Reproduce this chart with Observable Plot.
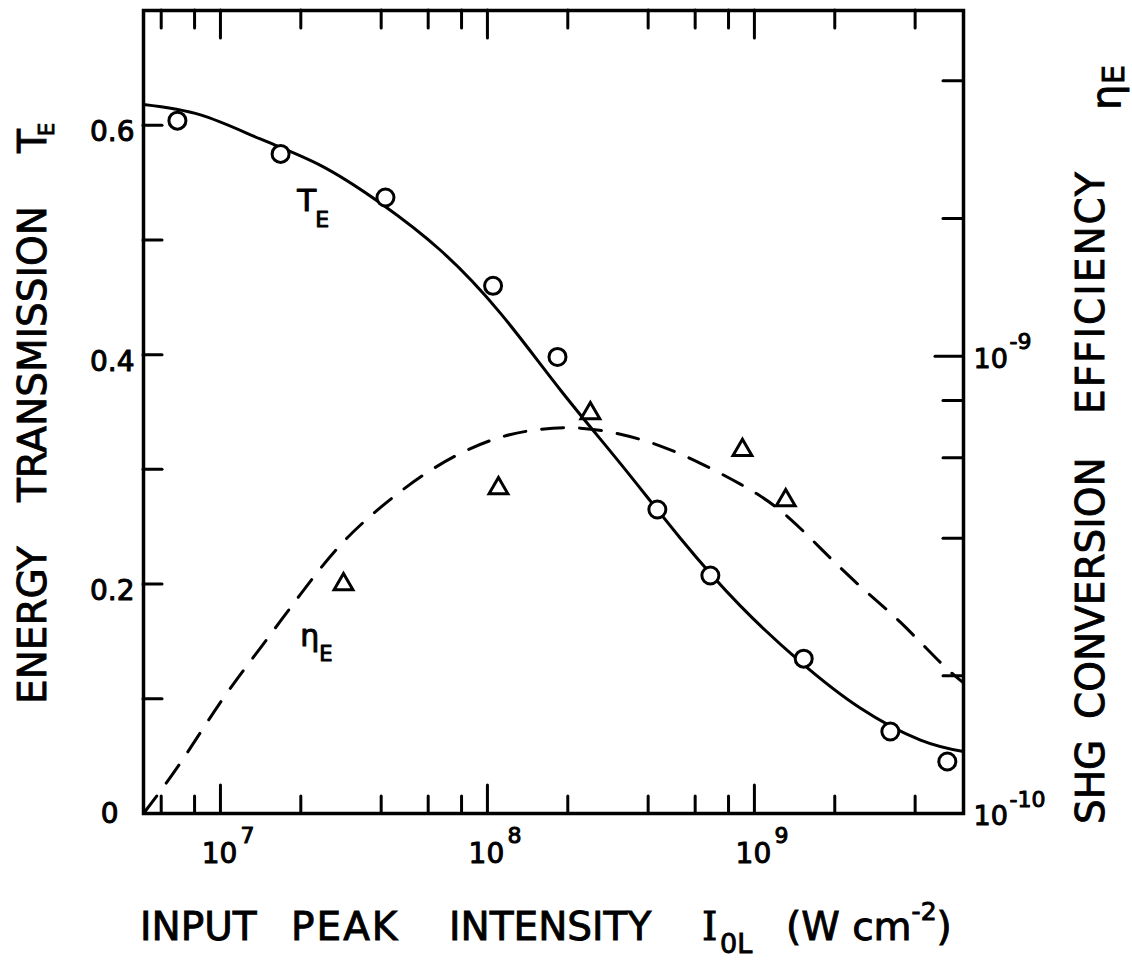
<!DOCTYPE html>
<html>
<head>
<meta charset="utf-8">
<script src="https://cdn.jsdelivr.net/npm/d3@7"></script>
<script src="https://cdn.jsdelivr.net/npm/@observablehq/plot@0.6"></script>
<style>
  html, body { margin: 0; padding: 0; background: #fff; }
  #chart svg { display: block; }
</style>
</head>
<body>
<div id="chart"></div>
<script>
// ---------- axis ticks ----------
const intensityDomain = [5.15e6, 6.07e9];
const intensityTicksMinor = [6e6, 8e6, 2e7, 4e7, 6e7, 8e7, 2e8, 4e8, 6e8, 8e8, 2e9, 4e9];
const intensityTicksMajor = [1e7, 1e8, 1e9];
const transmissionDomain = [0, 0.7];
const transmissionTicks = [0.1, 0.2, 0.3, 0.4, 0.5, 0.6];
const transmissionLabels = [0.2, 0.4, 0.6];
const efficiencyDomain = [1e-10, 5.7e-9];
const efficiencyTicksMinor = [2e-10, 4e-10, 6e-10, 8e-10, 2e-9, 4e-9];
const efficiencyTicksMajor = [1e-9];
const efficiencyLabels = [1e-10, 1e-9];

// ---------- T_E : energy transmission ----------
const tMeasIntensity = [6.9e6, 1.68e7, 4.15e7, 1.05e8, 1.83e8, 4.33e8, 6.84e8, 1.53e9, 3.23e9, 5.28e9];
const tMeasValue     = [0.604, 0.575, 0.537, 0.460, 0.398, 0.265, 0.2075, 0.135, 0.0715, 0.0453];
const tFitIntensity  = [5.15e6, 8.42e6, 1.41e7, 2.37e7, 3.98e7, 6.67e7, 1.12e8, 1.88e8, 3.15e8, 5.28e8,
                        8.86e8, 1.49e9, 2.49e9, 4.19e9, 6.07e9];
const tFitValue      = [0.618, 0.609, 0.588, 0.565, 0.532, 0.491, 0.436, 0.369, 0.305, 0.240,
                        0.181, 0.132, 0.092, 0.064, 0.054];

// ---------- eta_E : SHG conversion efficiency ----------
const etaMeasIntensity = [2.89e7, 1.10e8, 2.43e8, 9.02e8, 1.31e9];
const etaMeasValue     = [3.17e-10, 5.14e-10, 7.50e-10, 6.23e-10, 4.84e-10];
const etaFitIntensity  = [5.15e6, 7.08e6, 1.00e7, 1.41e7, 1.99e7, 2.81e7, 3.98e7, 5.61e7, 7.92e7, 1.12e8,
                          1.58e8, 2.23e8, 3.15e8, 4.45e8, 6.28e8, 8.86e8, 1.25e9, 1.77e9, 2.49e9, 3.52e9,
                          4.97e9, 6.07e9];
const etaFitValue      = [1.00e-10, 1.29e-10, 1.75e-10, 2.30e-10, 3.01e-10, 3.86e-10, 4.67e-10, 5.44e-10, 6.13e-10, 6.65e-10,
                          6.92e-10, 6.96e-10, 6.75e-10, 6.36e-10, 5.83e-10, 5.25e-10, 4.60e-10, 3.80e-10, 3.14e-10, 2.62e-10,
                          2.14e-10, 1.93e-10];

// ---------- curve annotations ----------
const annotationT   = [{x: 1.94e7, y: 0.525, label: "T", sub: "E"}];
const annotationEta = [{x: 1.99e7, y: 0.146, label: "η", sub: "E"}];

// ---------- tables ----------
const tMeas = tMeasIntensity.map((x, i) => ({x, y: tMeasValue[i]}));
const tFit = tFitIntensity.map((x, i) => ({x, y: tFitValue[i]}));
const etaMeas = etaMeasIntensity.map((x, i) => ({x, eta: etaMeasValue[i]}));
const etaFit = etaFitIntensity.map((x, i) => ({x, eta: etaFitValue[i]}));

// right (log) axis mapped onto the shared y scale
const etaSpan = Math.log10(efficiencyDomain[1] / efficiencyDomain[0]);
const etaToY = v => (Math.log10(v / efficiencyDomain[0]) / etaSpan) * transmissionDomain[1];

// ---------- layout ----------
const W = 1132, H = 960;
const mL = 143, mR = W - 963, mT = 10, mB = H - 813;
const fW = W - mL - mR, fH = H - mT - mB;
const FONT = "DejaVu Sans, Verdana, sans-serif";
const heavy = {fill: "black", stroke: "black", strokeWidth: 1};

function richText(x, y, rotate, parts) {
  return () => {
    const t = d3.create("svg:text")
      .attr("transform", `translate(${x},${y}) rotate(${rotate})`)
      .attr("fill", "black")
      .attr("stroke", "black")
      .attr("stroke-width", 0.9)
      .attr("text-anchor", "start")
      .attr("font-family", FONT);
    let base = 0;
    for (const p of parts) {
      const s = t.append("tspan").text(p.text).attr("font-size", p.size);
      if (p.x !== undefined) s.attr("x", p.x);
      const shift = p.shift || 0;
      if (shift !== base) { s.attr("dy", shift - base); base = shift; }
      if (p.family) s.attr("font-family", p.family);
      if (p.spacing) s.attr("letter-spacing", p.spacing);
    }
    return t.node();
  };
}

const tickStyle = {stroke: "black", strokeWidth: 3, strokeLinecap: "round"};

const chart = Plot.plot({
  width: W, height: H,
  marginLeft: mL, marginRight: mR, marginTop: mT, marginBottom: mB,
  style: {fontFamily: FONT, background: "white", color: "black"},
  x: {type: "log", domain: intensityDomain, axis: null},
  y: {domain: transmissionDomain, axis: null},
  marks: [
    // ticks (inward)
    Plot.tickX(intensityTicksMinor, {x: d => d, insetTop: fH - 17, ...tickStyle}),
    Plot.tickX(intensityTicksMajor, {x: d => d, insetTop: fH - 28, ...tickStyle}),
    Plot.tickX(intensityTicksMinor, {x: d => d, insetBottom: fH - 18, ...tickStyle}),
    Plot.tickX(intensityTicksMajor, {x: d => d, insetBottom: fH - 28, ...tickStyle}),
    Plot.tickY(transmissionTicks, {y: d => d, insetRight: fW - 19, ...tickStyle}),
    Plot.tickY(efficiencyTicksMinor, {y: d => etaToY(d), insetLeft: fW - 20, ...tickStyle}),
    Plot.tickY(efficiencyTicksMajor, {y: d => etaToY(d), insetLeft: fW - 28, ...tickStyle}),

    // curves
    Plot.line(tFit, {x: "x", y: "y", curve: "natural", stroke: "black", strokeWidth: 3}),
    Plot.line(etaFit, {x: "x", y: d => etaToY(d.eta), curve: "natural", stroke: "black",
      strokeWidth: 3, strokeDasharray: "22,16", strokeLinecap: "round"}),

    // measured points
    Plot.dot(tMeas, {x: "x", y: "y", r: 8.5, stroke: "black", strokeWidth: 3, fill: "white"}),
    Plot.dot(etaMeas, {x: "x", y: d => etaToY(d.eta), symbol: "triangle", r: 7, stroke: "black",
      strokeWidth: 3, fill: "white"}),

    Plot.frame({stroke: "black", strokeWidth: 3.5}),

    // left tick labels
    Plot.text(transmissionLabels, {y: d => d, text: d => d.toFixed(1), frameAnchor: "left",
      textAnchor: "end", dx: -9, dy: 7, fontSize: 28, ...heavy}),
    Plot.text([0], {y: d => d, text: () => "0", frameAnchor: "left",
      textAnchor: "end", dx: -25, dy: 1, fontSize: 28, ...heavy}),

    // bottom tick labels
    Plot.text(intensityTicksMajor, {x: d => d, text: () => "10", frameAnchor: "bottom",
      textAnchor: "middle", lineAnchor: "bottom", dx: -1, dy: 49, fontSize: 28, ...heavy}),
    Plot.text(intensityTicksMajor, {x: d => d, text: d => String(Math.round(Math.log10(d))), frameAnchor: "bottom",
      textAnchor: "start", lineAnchor: "bottom", dx: 20, dy: 29, fontSize: 22, ...heavy}),

    // right tick labels
    Plot.text(efficiencyLabels, {y: d => etaToY(d), text: () => "10", frameAnchor: "right",
      textAnchor: "start", dx: 10, dy: 3, fontSize: 27, ...heavy}),
    Plot.text(efficiencyLabels, {y: d => etaToY(d), text: d => "-" + String(Math.round(-Math.log10(d))),
      frameAnchor: "right", textAnchor: "start", lineAnchor: "bottom", dx: 46, dy: -7, fontSize: 22, ...heavy}),

    // curve labels
    Plot.text(annotationT, {x: "x", y: "y", text: "label", textAnchor: "start", lineAnchor: "bottom",
      fontSize: 31, ...heavy}),
    Plot.text(annotationT, {x: "x", y: "y", text: "sub", textAnchor: "start", lineAnchor: "bottom",
      dx: 18, dy: 16, fontSize: 22, ...heavy}),
    Plot.text(annotationEta, {x: "x", y: "y", text: "label", textAnchor: "start", lineAnchor: "bottom",
      fontSize: 30, ...heavy}),
    Plot.text(annotationEta, {x: "x", y: "y", text: "sub", textAnchor: "start", lineAnchor: "bottom",
      dx: 19, dy: 15, fontSize: 21, ...heavy}),

    // axis titles
    richText(0, 940, 0, [
      {text: "INPUT", x: 140, size: 39},
      {text: "PEAK", x: 291, size: 39, spacing: 2},
      {text: "INTENSITY", x: 449, size: 39},
      {text: "I", x: 702, size: 39, family: "DejaVu Serif, serif"},
      {text: "0L", x: 720, size: 27, shift: 13},
      {text: "(W cm", x: 786, size: 39, shift: 0},
      {text: "-2", size: 25, shift: -20},
      {text: ")", size: 39, shift: 0}
    ]),
    richText(46, 704, -90, [
      {text: "ENERGY", x: 0, size: 39},
      {text: "TRANSMISSION", x: 202, size: 39},
      {text: "T", x: 551, size: 39},
      {text: "E", x: 568, size: 21, shift: 8}
    ]),
    richText(1104, 824, -90, [
      {text: "SHG", x: 0, size: 39},
      {text: "CONVERSION", x: 105, size: 39},
      {text: "EFFICIENCY", x: 410, size: 39, spacing: 2},
      {text: "η", x: 714, size: 40, shift: 16},
      {text: "E", x: 740, size: 30, shift: 20}
    ])
  ]
});

document.getElementById("chart").appendChild(chart);
</script>
</body>
</html>
